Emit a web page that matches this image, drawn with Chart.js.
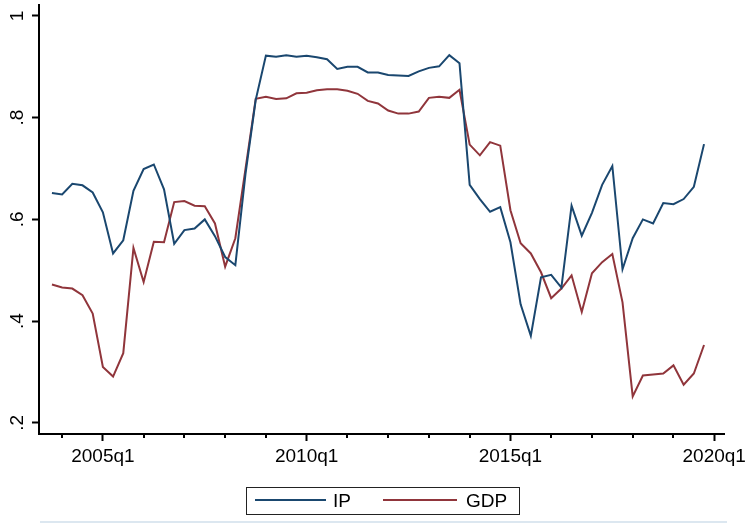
<!DOCTYPE html>
<html>
<head>
<meta charset="utf-8">
<script src="https://cdn.jsdelivr.net/npm/chart.js@4.4.1/dist/chart.umd.min.js"></script>
<style>
  html, body { margin: 0; padding: 0; background: #fff; }
  #wrap { width: 747px; height: 525px; position: relative; }
</style>
</head>
<body>
<div id="wrap"><canvas id="c" width="747" height="525"></canvas></div>
<script>
// quarterly series, first point is 2003q4
const firstQuarter = '2003q4';
const ipValues = [
  0.652, 0.649, 0.670, 0.667, 0.653, 0.614, 0.533, 0.559, 0.656, 0.699, 0.708,
  0.659, 0.552, 0.579, 0.582, 0.600, 0.567, 0.526, 0.510, 0.690, 0.835,
  0.922, 0.920, 0.923, 0.920, 0.922, 0.919, 0.915, 0.896, 0.900, 0.900,
  0.889, 0.889, 0.884, 0.883, 0.882, 0.891, 0.898, 0.901, 0.923, 0.907,
  0.668, 0.640, 0.615, 0.624, 0.555, 0.433, 0.371, 0.486, 0.491, 0.466,
  0.627, 0.568, 0.613, 0.668, 0.705, 0.502, 0.563, 0.600, 0.592, 0.632,
  0.630, 0.640, 0.664, 0.748
];
const gdpValues = [
  0.472, 0.466, 0.464, 0.451, 0.415, 0.310, 0.291, 0.337, 0.544, 0.477, 0.556,
  0.555, 0.634, 0.636, 0.627, 0.626, 0.592, 0.507, 0.563, 0.700, 0.837,
  0.841, 0.837, 0.838, 0.848, 0.849, 0.854, 0.856, 0.856, 0.853, 0.847,
  0.833, 0.828, 0.814, 0.808, 0.808, 0.812, 0.839, 0.841, 0.839, 0.855,
  0.747, 0.726, 0.752, 0.745, 0.618, 0.553, 0.533, 0.496, 0.445, 0.464,
  0.490, 0.418, 0.494, 0.516, 0.532, 0.437, 0.252, 0.293, 0.295, 0.297,
  0.313, 0.275, 0.297, 0.353
];
const seriesNames = ['IP', 'GDP'];
const seriesColors = ['#1a476f', '#90353b'];
const xTickLabels = ['2005q1', '2010q1', '2015q1', '2020q1'];
const xMinorLabels = ['2004q1','2006q1','2007q1','2008q1','2009q1','2011q1','2012q1','2013q1','2014q1',
  '2016q1','2017q1','2018q1','2019q1'];
const yTickValues = [0.2, 0.4, 0.6, 0.8, 1];
const yTickLabels = ['.2', '.4', '.6', '.8', '1'];

const FONT = "'Liberation Sans', Arial, sans-serif";

function qIndex(label) {
  const [y, q] = label.split('q').map(Number);
  const [y0, q0] = firstQuarter.split('q').map(Number);
  return (y - y0) * 4 + (q - q0);
}

const toPoints = vals => vals.map((v, i) => ({ x: i, y: v }));

// extra Stata-like bits: minor ticks, rotated y labels, boxed legend, bottom rule
const stataBits = {
  id: 'stataBits',
  afterDraw(chart) {
    const ctx = chart.ctx;
    const xs = chart.scales.x, ys = chart.scales.y;
    const area = chart.chartArea;
    ctx.save();

    ctx.strokeStyle = '#000';
    ctx.lineWidth = 2;
    xMinorLabels.forEach(l => {
      const px = Math.round(xs.getPixelForValue(qIndex(l)));
      ctx.beginPath();
      ctx.moveTo(px, area.bottom);
      ctx.lineTo(px, area.bottom + 4);
      ctx.stroke();
    });

    ctx.fillStyle = '#000';
    ctx.font = '19px ' + FONT;
    ctx.textAlign = 'center';
    ctx.textBaseline = 'alphabetic';
    yTickValues.forEach((v, i) => {
      const py = ys.getPixelForValue(v);
      ctx.save();
      ctx.translate(22.5, py);
      ctx.rotate(-Math.PI / 2);
      ctx.fillText(yTickLabels[i], 0, 0);
      ctx.restore();
    });

    // legend
    ctx.lineWidth = 1;
    ctx.strokeStyle = '#222';
    ctx.strokeRect(246.5, 487.5, 273, 27);
    const items = [
      { x1: 255, x2: 326, tx: 333 },
      { x1: 383, x2: 457, tx: 466 }
    ];
    chart.data.datasets.forEach((ds, i) => {
      const it = items[i];
      ctx.strokeStyle = ds.borderColor;
      ctx.lineWidth = 2;
      ctx.beginPath();
      ctx.moveTo(it.x1, 500);
      ctx.lineTo(it.x2, 500);
      ctx.stroke();
      ctx.fillStyle = '#000';
      ctx.textAlign = 'left';
      ctx.fillText(ds.label, it.tx, 507);
    });

    ctx.strokeStyle = '#dce7f0';
    ctx.lineWidth = 2;
    ctx.beginPath();
    ctx.moveTo(40, 522);
    ctx.lineTo(727, 522);
    ctx.stroke();
    ctx.restore();
  }
};

new Chart(document.getElementById('c').getContext('2d'), {
  type: 'line',
  data: {
    datasets: [
      { label: seriesNames[0], data: toPoints(ipValues), borderColor: seriesColors[0] },
      { label: seriesNames[1], data: toPoints(gdpValues), borderColor: seriesColors[1] }
    ]
  },
  options: {
    responsive: false,
    animation: false,
    layout: { padding: { left: 0, right: 23, top: 5, bottom: 51 } },
    elements: {
      point: { radius: 0 },
      line: { tension: 0, borderWidth: 2, fill: false }
    },
    plugins: { legend: { display: false }, tooltip: { enabled: false } },
    scales: {
      x: {
        type: 'linear',
        min: -1.27,
        max: 65.96,
        afterBuildTicks: s => { s.ticks = xTickLabels.map(l => ({ value: qIndex(l) })); },
        afterFit: s => { s.height = 40; s.paddingLeft = 0; s.paddingRight = 0; },
        border: { display: true, color: '#000', width: 2 },
        grid: { drawOnChartArea: false, drawTicks: true, tickLength: 7, tickColor: '#000', tickWidth: 2 },
        ticks: {
          autoSkip: false, maxRotation: 0, minRotation: 0, padding: 4, color: '#000',
          font: { family: FONT, size: 19 },
          callback: v => xTickLabels.find(l => qIndex(l) === v) || ''
        }
      },
      y: {
        min: 0.178,
        max: 1.0216,
        afterBuildTicks: s => { s.ticks = yTickValues.map(v => ({ value: v })); },
        afterFit: s => { s.width = 39; s.paddingTop = 0; s.paddingBottom = 0; },
        border: { display: true, color: '#000', width: 2 },
        grid: { drawOnChartArea: false, drawTicks: true, tickLength: 7, tickColor: '#000', tickWidth: 2 },
        ticks: { display: false }
      }
    }
  },
  plugins: [stataBits]
});
</script>
</body>
</html>
